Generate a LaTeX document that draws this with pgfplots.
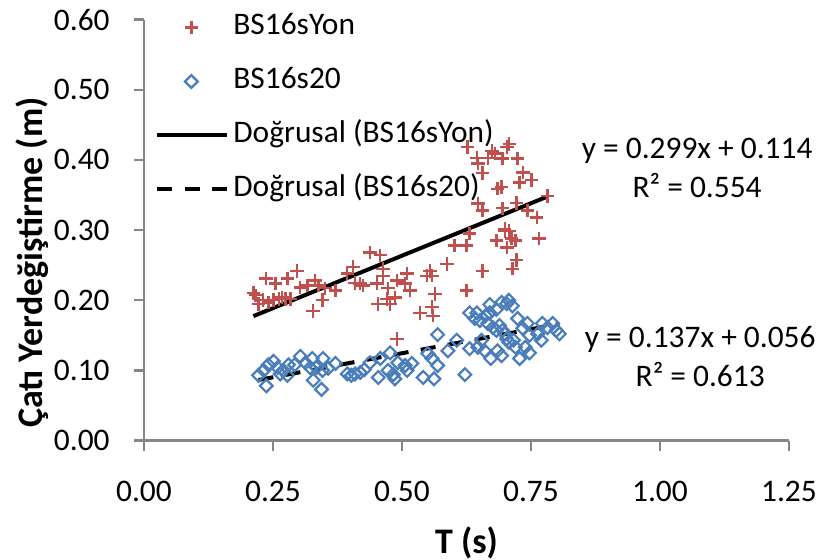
\documentclass[border=0pt]{standalone}
\usepackage{fontspec}
\setmainfont{Carlito}
\usepackage{pgfplots}
\pgfplotsset{compat=1.18}
\definecolor{exred}{RGB}{192,80,77}
\definecolor{exblue}{RGB}{74,126,187}
\definecolor{axgray}{RGB}{134,134,134}
\pgfplotsset{
  marklegend/.style={legend image code/.code={\draw[mark repeat=2,mark phase=2,##1] plot coordinates {(0pt,0pt) (17pt,0pt) (35pt,0pt)};}},
  linelegend/.style={legend image code/.code={\draw[##1] (0pt,0pt) -- (35pt,0pt);}},
}
\begin{document}
\begin{tikzpicture}
\begin{axis}[
  name=ax,
  scale only axis,
  clip=false,
  width=322.5pt, height=210.5pt,
  xmin=0, xmax=1.25, ymin=0, ymax=0.6,
  xtick={0,0.25,0.5,0.75,1,1.25},
  ytick={0,0.1,0.2,0.3,0.4,0.5,0.6},
  axis x line*=bottom, axis y line*=left,
  axis line style={draw=axgray, line width=1.1pt},
  tick style={draw=axgray, line width=1.1pt},
  tick align=outside, major tick length=5pt,
  /pgf/number format/assume math mode=true,
  /pgf/number format/.cd, fixed, fixed zerofill, precision=2, /pgfplots/.cd,
  ticklabel style={font=\fontsize{15.7}{18}\selectfont},
  xticklabel style={anchor=north, inner sep=0pt, yshift=-15pt},
  yticklabel style={anchor=east, inner sep=0pt, xshift=-12pt},
  xlabel={T (s)},
  ylabel={Çatı Yerdeğiştirme (m)},
  label style={font=\bfseries\fontsize{18}{21}\selectfont},
  xlabel style={at={(rel axis cs:0.5,-0.242)}, anchor=center},
  ylabel style={at={(rel axis cs:-0.173,0.423)}, anchor=center},
  legend cell align=left,
  legend style={at={(rel axis cs:0,1)}, anchor=north west, xshift=5.5pt, yshift=3.5pt,
    draw=none, fill=none, inner sep=0pt, row sep=12.5pt,
    font=\fontsize{15.7}{18}\selectfont,
    nodes={inner sep=0pt, text height=11pt, text depth=3.5pt, anchor=west},
    /tikz/every odd column/.append style={column sep=2pt}},
]
\addplot[only marks, mark=+, mark size=3.4pt, draw=exred, mark options={line width=1.15pt}, marklegend]
coordinates {
(0.212,0.210) (0.216,0.207) (0.222,0.195) (0.230,0.200) (0.236,0.231) (0.241,0.197)
(0.251,0.200) (0.255,0.224) (0.261,0.202) (0.268,0.204) (0.274,0.202) (0.278,0.231)
(0.284,0.202) (0.297,0.242) (0.303,0.218) (0.317,0.221) (0.328,0.185) (0.332,0.228)
(0.338,0.221) (0.346,0.200) (0.351,0.217) (0.371,0.214) (0.394,0.238) (0.405,0.247)
(0.409,0.225) (0.419,0.224) (0.425,0.221) (0.438,0.268) (0.452,0.224) (0.454,0.195)
(0.458,0.264) (0.463,0.235) (0.463,0.245) (0.471,0.202) (0.473,0.217) (0.477,0.195)
(0.486,0.204) (0.490,0.228) (0.490,0.145) (0.506,0.224) (0.510,0.238) (0.515,0.214)
(0.535,0.182) (0.548,0.235) (0.554,0.242) (0.558,0.235) (0.558,0.190) (0.560,0.178)
(0.564,0.209) (0.587,0.252) (0.602,0.278) (0.625,0.278) (0.625,0.214) (0.627,0.418)
(0.631,0.295) (0.645,0.403) (0.647,0.395) (0.647,0.338) (0.656,0.242) (0.656,0.381)
(0.656,0.328) (0.666,0.403) (0.674,0.413) (0.680,0.409) (0.683,0.285) (0.685,0.359)
(0.693,0.361) (0.695,0.402) (0.695,0.331) (0.699,0.299) (0.699,0.302) (0.703,0.418)
(0.703,0.275) (0.708,0.423) (0.708,0.299) (0.712,0.288) (0.714,0.245) (0.720,0.285)
(0.722,0.257) (0.722,0.339) (0.724,0.402) (0.728,0.368) (0.734,0.382) (0.743,0.328)
(0.751,0.371) (0.761,0.318) (0.766,0.288) (0.782,0.349)
};
\addlegendentry{BS16sYon}
\addplot[only marks, mark=square, mark size=2.25pt, draw=exblue, mark options={rotate=45, line width=1.1pt}, marklegend]
coordinates {
(0.222,0.093) (0.232,0.100) (0.241,0.108) (0.251,0.113) (0.259,0.104) (0.237,0.078)
(0.264,0.095) (0.270,0.100) (0.278,0.093) (0.280,0.108) (0.292,0.108) (0.303,0.120)
(0.313,0.111) (0.326,0.117) (0.322,0.104) (0.334,0.104) (0.347,0.117) (0.346,0.100)
(0.357,0.103) (0.328,0.086) (0.344,0.073) (0.371,0.110) (0.394,0.095) (0.402,0.093)
(0.409,0.095) (0.419,0.097) (0.427,0.101) (0.438,0.111) (0.454,0.090) (0.458,0.117)
(0.477,0.125) (0.473,0.100) (0.483,0.094) (0.486,0.088) (0.492,0.111) (0.506,0.107)
(0.519,0.110) (0.510,0.100) (0.541,0.090) (0.562,0.088) (0.550,0.124) (0.558,0.117)
(0.569,0.107) (0.569,0.151) (0.589,0.128) (0.606,0.143) (0.622,0.094) (0.631,0.131)
(0.631,0.182) (0.645,0.182) (0.641,0.174) (0.651,0.171) (0.662,0.178) (0.670,0.182)
(0.670,0.194) (0.683,0.187) (0.693,0.197) (0.703,0.195) (0.707,0.200) (0.714,0.192)
(0.666,0.167) (0.676,0.161) (0.683,0.157) (0.654,0.143) (0.647,0.133) (0.660,0.128)
(0.672,0.117) (0.685,0.128) (0.693,0.121) (0.699,0.152) (0.703,0.145) (0.707,0.140)
(0.716,0.143) (0.689,0.164) (0.695,0.157) (0.720,0.133) (0.728,0.117) (0.724,0.174)
(0.734,0.160) (0.743,0.167) (0.747,0.150) (0.739,0.133) (0.747,0.125) (0.763,0.152)
(0.770,0.143) (0.772,0.167) (0.782,0.161) (0.792,0.167) (0.799,0.157) (0.805,0.152)
};
\addlegendentry{BS16s20}
\addplot[black, line width=2pt, linelegend]
coordinates {(0.212,0.1774) (0.782,0.3478)};
\addlegendentry{Doğrusal (BS16sYon)}
\addplot[black, line width=2pt, dash pattern=on 7.5pt off 6.25pt, linelegend]
coordinates {(0.222,0.0864) (0.805,0.1663)};
\addlegendentry{Doğrusal (BS16s20)}
\node[align=center, font=\fontsize{15.7}{19.5}\selectfont, inner sep=0pt] at (axis cs:1.072,0.388) {y = 0.299x + 0.114\\R² = 0.554};
\node[align=center, font=\fontsize{15.7}{19.5}\selectfont, inner sep=0pt] at (axis cs:1.078,0.120) {y = 0.137x + 0.056\\R² = 0.613};
\end{axis}
\pgfresetboundingbox
\path ([xshift=-72pt,yshift=-59.5pt]ax.south west) rectangle ([xshift=16pt,yshift=9.8pt]ax.north east);
\end{tikzpicture}
\end{document}
